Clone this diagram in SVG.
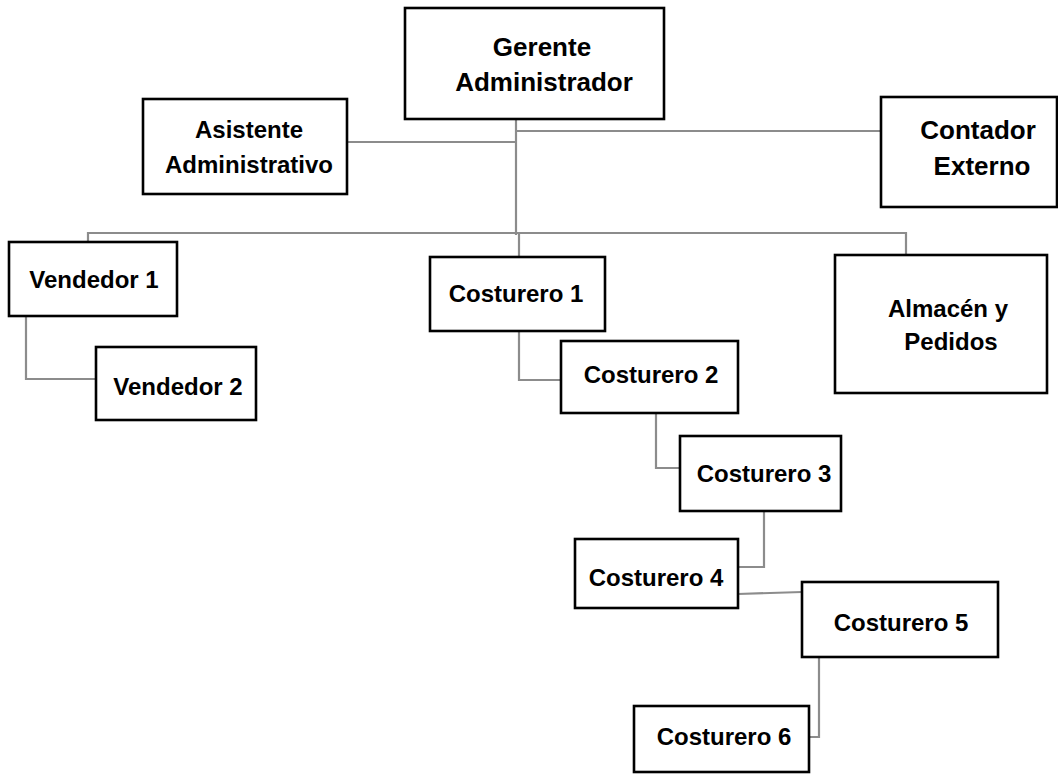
<svg xmlns="http://www.w3.org/2000/svg" width="1058" height="774" viewBox="0 0 1058 774">
<style>
.box{fill:#fff;stroke:#000;stroke-width:2.6}
.t{font-family:"Liberation Sans",Arial,sans-serif;font-weight:bold;font-size:24px;fill:#000;text-anchor:middle}
.big{font-size:26px}
.c{fill:none;stroke:#8c8c8c;stroke-width:2.2}
</style>
<rect width="1058" height="774" fill="#fff"/>
<g id="connectors">
<polyline class="c" points="516,119 516,235"/>
<polyline class="c" points="347,142 516,142"/>
<polyline class="c" points="516,131 881,131"/>
<polyline class="c" points="88,242 88,233 906,233 906,255"/>
<polyline class="c" points="519,233 519,257"/>
<polyline class="c" points="26,316 26,379 96,379"/>
<polyline class="c" points="519,331 519,380 561,380"/>
<polyline class="c" points="656,413 656,468 680,468"/>
<polyline class="c" points="764,511 764,567 738,567"/>
<polyline class="c" points="738,594 802,592"/>
<polyline class="c" points="819,657 819,737 809,737"/>
</g>
<g id="gerente">
<rect class="box" x="405" y="8" width="259" height="111"/>
<text class="t big" x="542" y="56">Gerente</text>
<text class="t big" x="544" y="91">Administrador</text>
</g>
<g id="asistente">
<rect class="box" x="143" y="99" width="204" height="95"/>
<text class="t" x="249" y="138">Asistente</text>
<text class="t" x="249" y="173">Administrativo</text>
</g>
<g id="contador">
<rect class="box" x="881" y="97" width="176" height="110"/>
<text class="t big" x="978" y="139">Contador</text>
<text class="t big" x="982" y="175">Externo</text>
</g>
<g id="vendedor1">
<rect class="box" x="9" y="242" width="168" height="74"/>
<text class="t" x="94" y="288">Vendedor 1</text>
</g>
<g id="vendedor2">
<rect class="box" x="96" y="347" width="160" height="73"/>
<text class="t" x="178" y="395">Vendedor 2</text>
</g>
<g id="costurero1">
<rect class="box" x="430" y="257" width="175" height="74"/>
<text class="t" x="516" y="302">Costurero 1</text>
</g>
<g id="almacen">
<rect class="box" x="835" y="255" width="212" height="138"/>
<text class="t" x="948" y="317">Almacén y</text>
<text class="t" x="951" y="350">Pedidos</text>
</g>
<g id="costurero2">
<rect class="box" x="561" y="341" width="177" height="72"/>
<text class="t" x="651" y="383">Costurero 2</text>
</g>
<g id="costurero3">
<rect class="box" x="680" y="436" width="161" height="75"/>
<text class="t" x="764" y="482">Costurero 3</text>
</g>
<g id="costurero4">
<rect class="box" x="575" y="539" width="163" height="69"/>
<text class="t" x="656" y="586">Costurero 4</text>
</g>
<g id="costurero5">
<rect class="box" x="802" y="582" width="196" height="75"/>
<text class="t" x="901" y="631">Costurero 5</text>
</g>
<g id="costurero6">
<rect class="box" x="634" y="706" width="175" height="66"/>
<text class="t" x="724" y="745">Costurero 6</text>
</g>
</svg>
